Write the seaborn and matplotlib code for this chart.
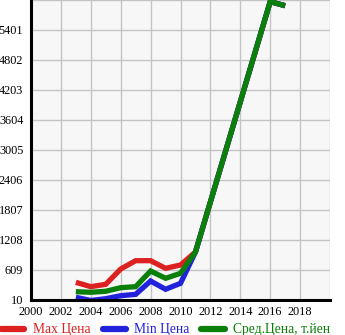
import matplotlib
matplotlib.use("Agg")
import matplotlib.pyplot as plt
import seaborn as sns
import pandas as pd

# Yearly prices (thousand yen)
years = [2003, 2004, 2005, 2006, 2007, 2008, 2009, 2010, 2011, 2016, 2017]
max_price = [363, 276, 323, 629, 795, 795, 643, 709, 968, 5966, 5886]
min_price = [64, 0, 36, 96, 123, 389, 224, 343, 968, 5966, 5886]
avg_price = [176, 164, 184, 256, 276, 589, 443, 543, 968, 5966, 5886]

series_names = ["Max Цена", "Min Цена", "Сред.Цена, т.йен"]
series_colors = ["#dd2121", "#2222dd", "#0a800a"]

y_ticks = [10, 609, 1208, 1807, 2406, 3005, 3604, 4203, 4802, 5401]
x_ticks = [2000, 2002, 2004, 2006, 2008, 2010, 2012, 2014, 2016, 2018]

df = pd.DataFrame({
    "year": years * 3,
    "price": max_price + min_price + avg_price,
    "series": [series_names[0]] * len(years)
    + [series_names[1]] * len(years)
    + [series_names[2]] * len(years),
})

sns.set_theme(style="white")
plt.rcParams["font.family"] = ["Liberation Serif", "DejaVu Serif"]

fig = plt.figure(figsize=(3.45, 3.35), dpi=100)
ax = fig.add_axes([31 / 345, 35 / 335, 299 / 345, 300 / 335])
ax.set_facecolor("#f7f7f7")

sns.lineplot(
    data=df, x="year", y="price", hue="series",
    hue_order=series_names, palette=series_colors,
    linewidth=3.8, ax=ax, legend=False,
    solid_capstyle="butt", solid_joinstyle="miter",
)

ax.set_xlim(2000, 2020)
ax.set_ylim(10, 6000)
ax.set_xticks(x_ticks + [2020])
ax.set_xticklabels([str(x) for x in x_ticks] + [""])
ax.set_yticks(y_ticks + [6000])
ax.set_yticklabels([str(y) for y in y_ticks] + [""])
ax.grid(True, color="#c4c4c4", linewidth=1.0)
ax.set_axisbelow(True)
ax.set_xlabel("")
ax.set_ylabel("")

for side in ["top", "right"]:
    ax.spines[side].set_visible(False)
for side in ["left", "bottom"]:
    ax.spines[side].set_color("black")
    ax.spines[side].set_linewidth(2.2)

ax.tick_params(axis="both", which="both", direction="out", length=4,
               width=1, color="black", labelsize=8.8, labelcolor="black")
ax.tick_params(axis="x", pad=0.5)
ax.tick_params(axis="y", pad=1.5)

handles = [plt.Line2D([0], [0], color=c, linewidth=4.5, solid_capstyle="round")
           for c in series_colors]
leg = fig.legend(handles, series_names, loc="center", ncol=3,
                 bbox_to_anchor=(0.48, 5 / 335), frameon=False,
                 fontsize=9.8, handlelength=1.7, handletextpad=0.6,
                 columnspacing=0.9, borderaxespad=0)
for txt, c in zip(leg.get_texts(), series_colors):
    txt.set_color(c)

fig.savefig("out.png", dpi=100)
